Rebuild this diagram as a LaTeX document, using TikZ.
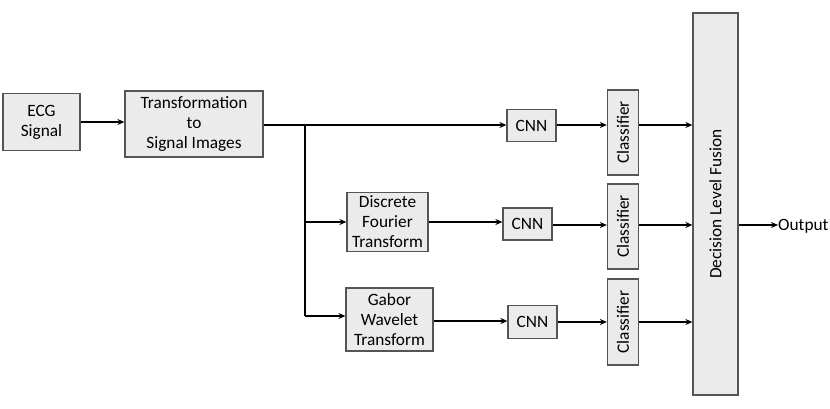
\documentclass[tikz,border=0pt]{standalone}
\usepackage{fontspec}
\setmainfont{Carlito}
\usetikzlibrary{arrows.meta,calc}
\definecolor{boxfill}{HTML}{EBEBEB}
\definecolor{boxline}{HTML}{555555}
\begin{document}
\begin{tikzpicture}[x=1pt,y=-1pt,
  blk/.style={draw=boxline,line width=1.2pt,fill=boxfill,inner sep=0pt,align=center,
    font=\fontsize{17.3}{20}\selectfont},
  rtxt/.style={rotate=90,font=\fontsize{17.3}{20}\selectfont},
  conn/.style={line width=2.5pt,-{Stealth[length=7pt,width=6pt]}},
  plain/.style={line width=2.5pt}]
\useasboundingbox (0,0) rectangle (830,409);
\node[blk,minimum width=77,minimum height=57] (ecg) at (41.5,122) {ECG\\Signal};
\node[blk,minimum width=138,minimum height=66] (trans) at (194,124) {Transformation\\to\\Signal Images};
\node[blk,minimum width=49,minimum height=32] (cnn1) at (531.5,125.5) {CNN};
\node[blk,minimum width=81,minimum height=59] (dft) at (387.5,222) {Discrete\\Fourier\\Transform};
\node[blk,minimum width=87,minimum height=63] (gab) at (389.5,319.5) {Gabor\\Wavelet\\Transform};
\node[blk,minimum width=49,minimum height=32] (cnn2) at (527.5,224) {CNN};
\node[blk,minimum width=49,minimum height=33] (cnn3) at (532.5,322) {CNN};
\node[blk,minimum width=31,minimum height=85] (cls1) at (623,132.5) {};
\node[rtxt] at (cls1) {Classifier};
\node[blk,minimum width=31,minimum height=85] (cls2) at (623,226.5) {};
\node[rtxt] at (cls2) {Classifier};
\node[blk,minimum width=31,minimum height=86] (cls3) at (623,322) {};
\node[rtxt] at (cls3) {Classifier};
\node[blk,minimum width=45,minimum height=382] (fus) at (715.5,204) {};
\node[rtxt] at (fus) {Decision Level Fusion};
\node[anchor=west,inner sep=0pt,font=\fontsize{17.3}{20}\selectfont] (out) at (778,226) {Output};
\coordinate (br) at (305,125);
\coordinate (brb) at (305,316);
\coordinate (c1) at (cls1.east |- 0,125);
\coordinate (c2) at (cls2.east |- 0,225);
\coordinate (c3) at (cls3.east |- 0,322);
% connectors
\draw[conn] (ecg.east) -- (ecg.east -| trans.west);
\draw[conn] (trans.east |- br) -- (br -| cnn1.west);
\draw[plain] (br) -- (brb);
\draw[conn] (br |- dft.west) -- (dft.west);
\draw[conn] (brb) -- (brb -| gab.west);
\draw[conn] (dft.east) -- (dft.east -| cnn2.west);
\draw[conn] (gab.east |- 0,321) -- (cnn3.west |- 0,321);
\draw[conn] (cnn1.east |- br) -- (br -| cls1.west);
\draw[conn] (cnn2.east |- c2) -- (c2 -| cls2.west);
\draw[conn] (cnn3.east |- c3) -- (c3 -| cls3.west);
\draw[conn] (c1) -- (c1 -| fus.west);
\draw[conn] (c2) -- (c2 -| fus.west);
\draw[conn] (c3) -- (c3 -| fus.west);
\draw[conn] (c2 -| fus.east) -- (c2 -| out.west);
\end{tikzpicture}
\end{document}
